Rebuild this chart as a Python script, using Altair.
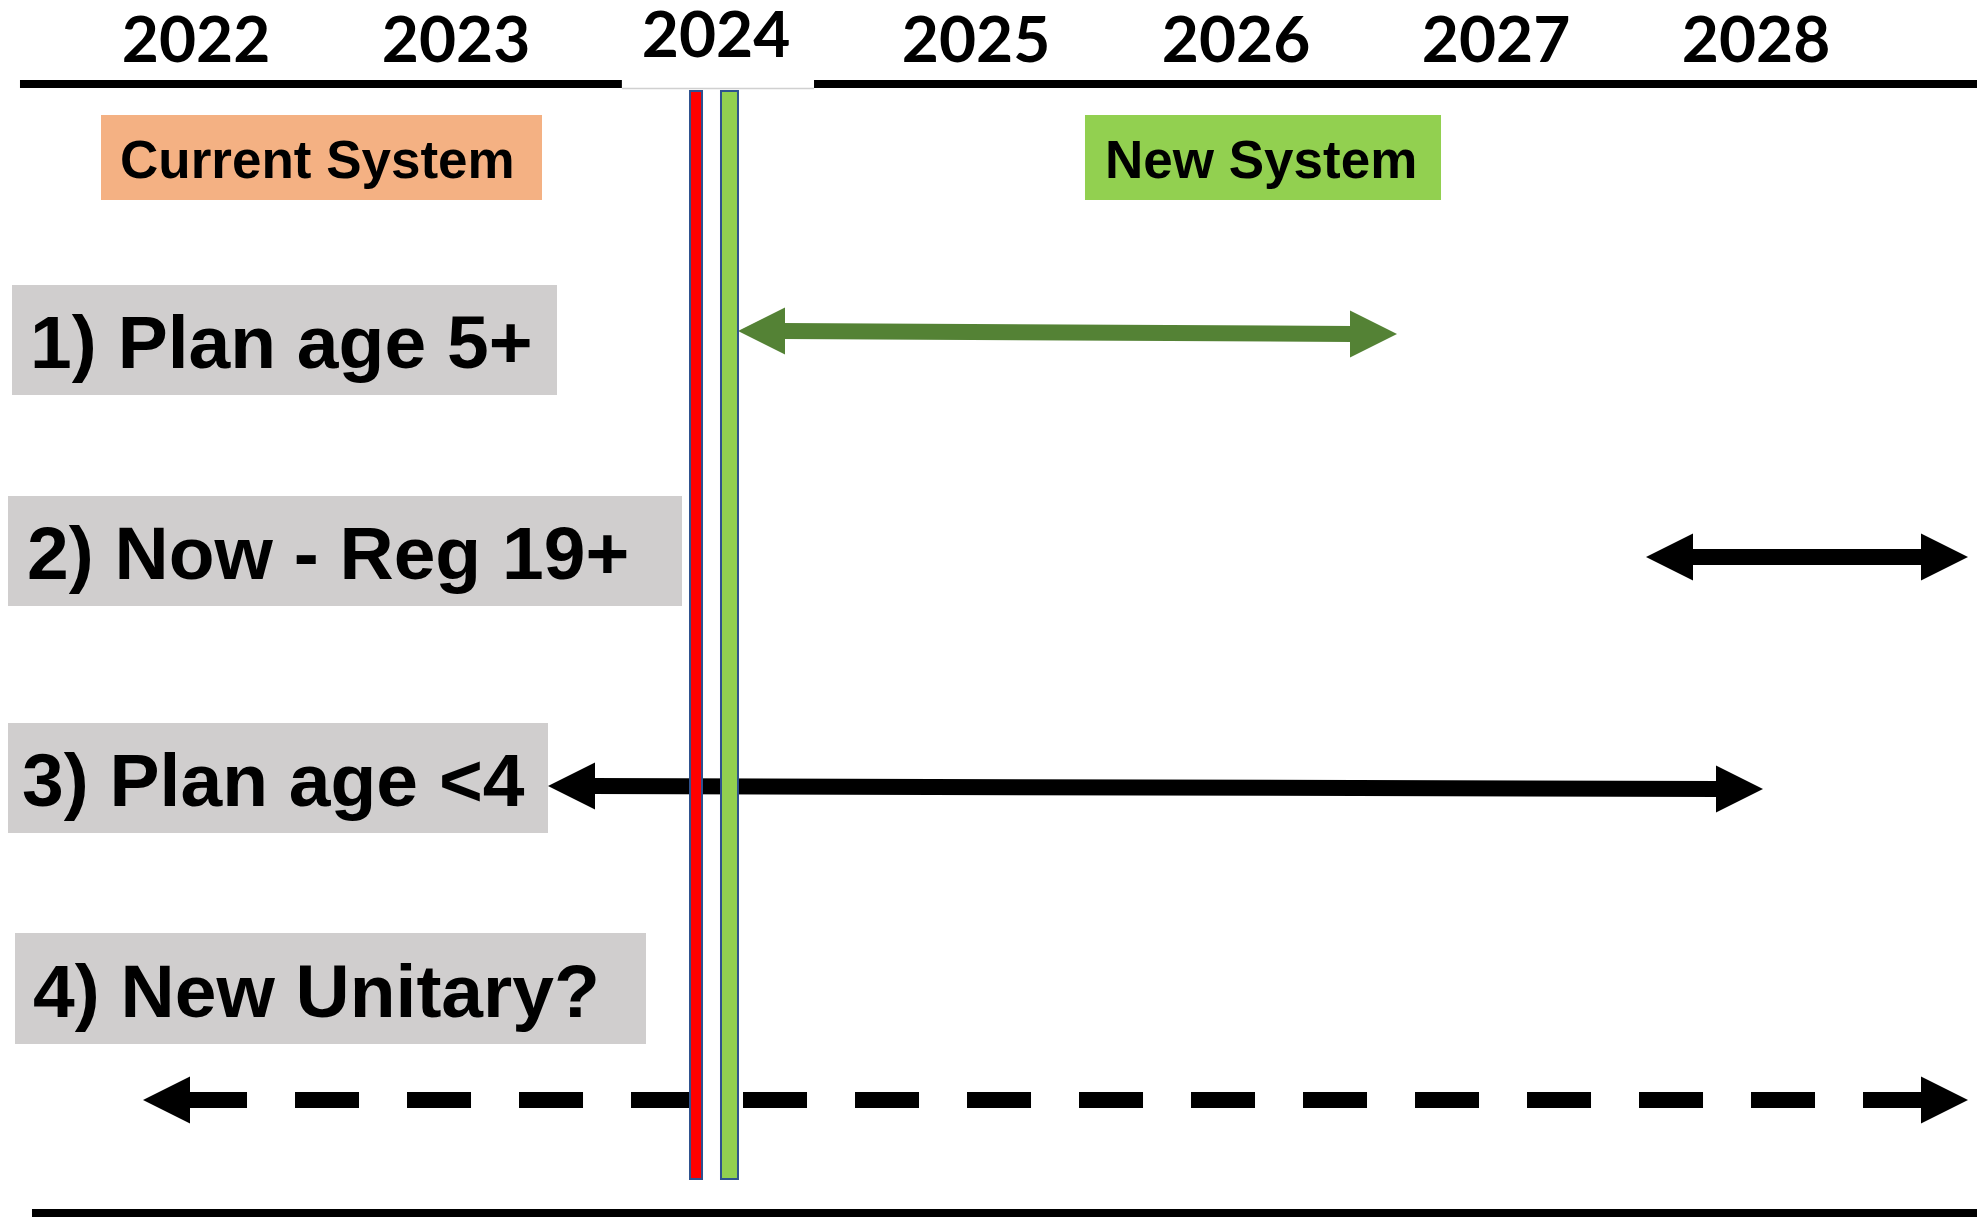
import altair as alt
import pandas as pd

# ---------------- data ----------------
years = [2022, 2023, 2024, 2025, 2026, 2027, 2028]

# top timeline rule (years) with the white gap behind the 2024 label
timeline_start = [2021.323, 2024.377]
timeline_end = [2023.638, 2028.850]
gap_start = [2023.638]
gap_end = [2024.377]

system_names = ["Current System", "New System"]
system_start = [2021.6346, 2025.4192]
system_end = [2023.3308, 2026.7885]
system_text_x = [2021.7077, 2025.4962]
system_colors = ["#F4B183", "#92D050"]

row_labels = ["1) Plan age 5+", "2) Now - Reg 19+", "3) Plan age <4", "4) New Unitary?"]
row_box_start = [2021.2923, 2021.2731, 2021.2577, 2021.3038]
row_box_end = [2023.3885, 2023.8692, 2023.3538, 2023.7308]
row_text_x = [2021.362, 2021.3500, 2021.3310, 2021.3731]
row_top = [285, 496, 723, 933]
row_bottom = [395, 606, 833, 1044]
row_baseline = [368, 579, 806, 1017]

arrow_ids = ["1", "2", "3", "4"]
arrow_from = [2024.0846, 2027.5769, 2023.3538, 2021.7962]
arrow_to = [2026.6192, 2028.8154, 2028.0269, 2028.8154]
arrow_level_from = [331, 557, 786, 1100]
arrow_level_to = [334, 557, 789, 1100]
arrow_colors = ["#548235", "#000000", "#000000", "#000000"]
arrow_dashed = [False, False, False, True]

marker_names = ["red", "green"]
marker_year = [2023.9231, 2024.0519]
marker_fill = ["#FF0000", "#92D050"]
marker_top = [90, 90]
marker_bottom = [1180, 1180]

bottom_start = [2021.3692]
bottom_end = [2028.85]

# ---------------- tables ----------------
years_df = pd.DataFrame({"year": years, "label": [str(y) for y in years]})
timeline_df = pd.DataFrame({"x": timeline_start, "x2": timeline_end})
gap_df = pd.DataFrame({"x": gap_start, "x2": gap_end})
systems_df = pd.DataFrame({
    "name": system_names, "x": system_start, "x2": system_end,
    "tx": system_text_x, "color": system_colors,
})
rows_df = pd.DataFrame({
    "label": row_labels, "x": row_box_start, "x2": row_box_end, "tx": row_text_x,
    "top": row_top, "bottom": row_bottom, "base": row_baseline,
})
arrows_df = pd.DataFrame({
    "id": arrow_ids, "x": arrow_from, "x2": arrow_to,
    "y": arrow_level_from, "y2": arrow_level_to,
    "color": arrow_colors, "dashed": arrow_dashed,
})
solid_df = arrows_df[~arrows_df["dashed"]]
dashed_df = arrows_df[arrows_df["dashed"]]
markers_df = pd.DataFrame({
    "name": marker_names, "x": marker_year, "fill": marker_fill,
    "top": marker_top, "bottom": marker_bottom,
})
bottom_df = pd.DataFrame({"x": bottom_start, "x2": bottom_end})

# ---------------- scales ----------------
xs = alt.Scale(domain=[2021.27692, 2028.85], nice=False, zero=False)
ys = alt.Scale(domain=[8, 1217], nice=False, zero=False, reverse=True)


def X(f):
    return alt.X(f, type="quantitative", scale=xs, axis=None)


def Y(f):
    return alt.Y(f, type="quantitative", scale=ys, axis=None)


def Yd(v):
    return alt.Y(datum=v, type="quantitative", scale=ys, axis=None)


layers = []

# top timeline
layers.append(
    alt.Chart(timeline_df).mark_rule(color="black", strokeWidth=8)
    .encode(x=X("x"), x2="x2", y=Yd(84))
)
layers.append(
    alt.Chart(gap_df).mark_rule(color="#D0D0D0", strokeWidth=1.5)
    .encode(x=X("x"), x2="x2", y=Yd(88.5))
)

# year labels (2024 sits slightly higher in its own box)
layers.append(
    alt.Chart(years_df)
    .transform_calculate(level="datum.year == 2024 ? 57 : 62")
    .mark_text(align="center", baseline="alphabetic", font="Lato",
               fontSize=64, fontWeight="bold", color="black")
    .encode(x=X("year"), y=Y("level"), text="label:N")
)

# system boxes
layers.append(
    alt.Chart(systems_df).mark_rect(strokeWidth=0)
    .encode(x=X("x"), x2="x2", y=Yd(115), y2=alt.Y2(datum=200),
            color=alt.Color("color:N", scale=None))
)
layers.append(
    alt.Chart(systems_df).mark_text(align="left", baseline="alphabetic",
                                    font="Liberation Sans, Arial, sans-serif",
                                    fontSize=53, fontWeight="bold", color="black")
    .encode(x=X("tx"), y=Yd(178), text="name:N")
)

# row label boxes
layers.append(
    alt.Chart(rows_df).mark_rect(color="#D0CECE", strokeWidth=0)
    .encode(x=X("x"), x2="x2", y=Y("top"), y2="bottom")
)
layers.append(
    alt.Chart(rows_df).mark_text(align="left", baseline="alphabetic",
                                 font="Liberation Sans, Arial, sans-serif",
                                 fontSize=75, fontWeight="bold", color="black")
    .encode(x=X("tx"), y=Y("base"), text="label:N")
)

# arrow shafts
layers.append(
    alt.Chart(solid_df).mark_rule(strokeWidth=16, xOffset=44, x2Offset=-44)
    .encode(x=X("x"), x2="x2", y=Y("y"), y2="y2",
            color=alt.Color("color:N", scale=None))
)
layers.append(
    alt.Chart(dashed_df).mark_rule(strokeWidth=16, xOffset=40, x2Offset=-43,
                                   strokeDash=[64, 48])
    .encode(x=X("x"), x2="x2", y=Y("y"), y2="y2",
            color=alt.Color("color:N", scale=None))
)

# arrow heads
left_head = "M0,0L2,-1L2,1Z"
right_head = "M0,0L-2,-1L-2,1Z"
layers.append(
    alt.Chart(arrows_df).mark_point(shape=left_head, filled=True, size=2209,
                                    opacity=1, strokeWidth=0)
    .encode(x=X("x"), y=Y("y"), color=alt.Color("color:N", scale=None))
)
layers.append(
    alt.Chart(arrows_df).mark_point(shape=right_head, filled=True, size=2209,
                                    opacity=1, strokeWidth=0)
    .encode(x=X("x2"), y=Y("y2"), color=alt.Color("color:N", scale=None))
)

# vertical markers: blue outline with red / green fill
outer_w = {"red": 14, "green": 19}
for name, fill in zip(marker_names, marker_fill):
    d = markers_df[markers_df["name"] == name]
    layers.append(
        alt.Chart(d).mark_rule(color="#2F528F", strokeWidth=outer_w[name])
        .encode(x=X("x"), y=Y("top"), y2="bottom")
    )
    layers.append(
        alt.Chart(d).mark_rule(color=fill, strokeWidth=outer_w[name] - 4,
                               yOffset=2, y2Offset=-2)
        .encode(x=X("x"), y=Y("top"), y2="bottom")
    )

# bottom rule
layers.append(
    alt.Chart(bottom_df).mark_rule(color="black", strokeWidth=8)
    .encode(x=X("x"), x2="x2", y=Yd(1213))
)

chart = (
    alt.layer(*layers)
    .properties(width=1969, height=1209, padding=0,
                autosize=alt.AutoSizeParams(type="none"))
    .configure_view(stroke=None)
)

chart.save("out.html", embed_options={"renderer": "svg", "actions": False})
